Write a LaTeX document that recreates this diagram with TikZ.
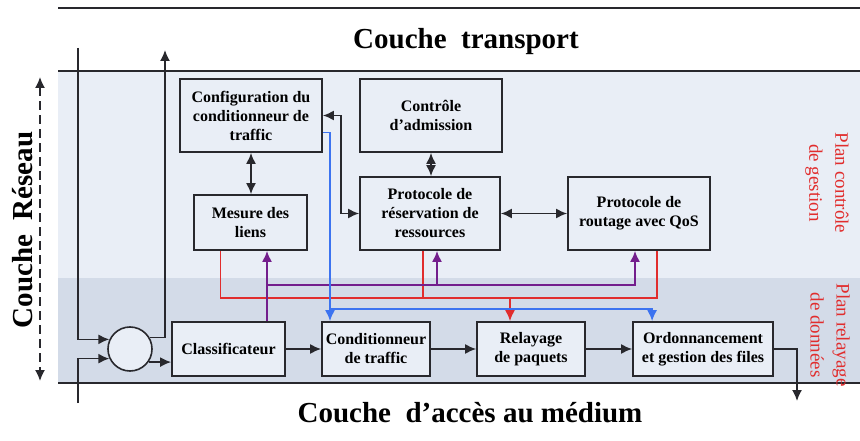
\documentclass[tikz,border=0pt]{standalone}
\usepackage{fontspec}
\setmainfont{Liberation Serif}
\usepackage{tikz}
\usetikzlibrary{arrows.meta}
\definecolor{planhaut}{RGB}{233,238,246}
\definecolor{planbas}{RGB}{211,219,232}
\definecolor{rouge}{RGB}{225,45,45}
\definecolor{bleu}{RGB}{60,115,240}
\definecolor{violet}{RGB}{115,30,140}
\definecolor{trait}{RGB}{40,40,45}

\begin{document}
\begin{tikzpicture}[x=1pt,y=-1pt,>={Latex[length=11pt,width=10pt]}]
\tikzstyle{bloc}=[draw=trait, line width=1.8pt, fill=planhaut, align=center, inner sep=1pt, font=\fontsize{16}{19}\selectfont\bfseries]
\tikzstyle{titre}=[font=\fontsize{29}{32}\selectfont\bfseries, inner sep=0pt]
\tikzstyle{plan}=[text=rouge, align=center, inner sep=0pt, font=\fontsize{19}{26}\selectfont]
\tikzstyle{lien}=[line width=1.6pt, draw=trait]

\useasboundingbox (0,0) rectangle (860,441);
\fill[white] (0,0) rectangle (860,441);
\fill[planhaut] (58,71) rectangle (860,278);
\fill[planbas] (58,278) rectangle (860,383);
\draw[lien] (58,8) -- (860,8);
\draw[lien] (58,71) -- (860,71);
\draw[lien] (58,383) -- (860,383);

\node[titre] (transport) at (466,42) {Couche\ \ transport};
\node[titre] (acces) at (470,413) {Couche\ \ d’accès au médium};
\node[titre, rotate=90] (reseau) at (23,230) {Couche\ \ Réseau};
\node[plan, rotate=-90] (gestion) at (827,183) {Plan contrôle\\de gestion};
\node[plan, rotate=-90] (donnees) at (830,335) {Plan relayage\\de données};

\node[bloc, minimum width=142, minimum height=73] (config) at (251,115.5) {Configuration du\\conditionneur de\\traffic};
\node[bloc, minimum width=142, minimum height=73] (admission) at (431,115.5) {Contrôle\\d’admission};
\node[bloc, minimum width=113, minimum height=55] (mesure) at (250.5,222.5) {Mesure des\\liens};
\node[bloc, minimum width=140, minimum height=73] (reservation) at (430,213.5) {Protocole de\\réservation de\\ressources};
\node[bloc, minimum width=142, minimum height=73] (routage) at (639,213.5) {Protocole de\\routage avec QoS};
\node[bloc, minimum width=113, minimum height=54] (classif) at (228.5,349) {Classificateur};
\node[bloc, minimum width=108, minimum height=54] (condit) at (376,349) {Conditionneur\\de traffic};
\node[bloc, minimum width=108, minimum height=54] (relayage) at (531,349) {Relayage\\de paquets};
\node[bloc, minimum width=140, minimum height=54] (ordo) at (703,349) {Ordonnancement\\et gestion des files};
\node[circle, draw=trait, line width=1.6pt, fill=planhaut, minimum size=44] (somme) at (130,349) {};

\coordinate (reseauHaut) at (40,77);
\coordinate (reseauBas) at (40,381);
\coordinate (entreeA) at (78,48);
\coordinate (entreeB) at (78,403);
\coordinate (sortieHaut) at (165,50);
\coordinate (sortieBas) at (797,401);
\coordinate (busBleu) at (330,309);
\coordinate (busRouge) at (510,298);
\coordinate (busViolet) at (267,285);

\draw[lien, <->, dash pattern=on 9pt off 5pt] (reseauHaut) -- (reseauBas);

\draw[lien,->] (entreeA) |- (somme.155);
\draw[lien,->] (entreeB) |- (somme.205);
\draw[lien,->] (somme.30) -| (sortieHaut);
\draw[lien,->] (somme.-35) -- (classif.west |- somme.-35);
\draw[lien,->] (classif) -- (condit);
\draw[lien,->] (condit) -- (relayage);
\draw[lien,->] (relayage) -- (ordo);
\draw[lien,->] (ordo.east) -| (sortieBas);

\draw[lien,<->] (config.south) -- (config.south |- mesure.north);
\draw[lien,<->] (admission.south) -- (admission.south |- reservation.north);
\draw[lien,<->] (reservation) -- (routage);
\draw[lien,<->] (config.east) -- ++(18,0) |- (reservation.west);

\draw[lien,draw=rouge] ([xshift=-30]mesure.south) |- (busRouge) -| ([xshift=18]routage.south);
\draw[lien,draw=rouge] ([xshift=-7]reservation.south) -- ([xshift=-7]reservation.south |- busRouge);
\draw[lien,draw=rouge,->] (busRouge) -- (busRouge |- relayage.north);

\draw[lien,draw=violet,->] (classif.north -| busViolet) -- (busViolet |- mesure.south);
\draw[lien,draw=violet,->] (busViolet) -| ([xshift=-4]routage.south);
\draw[lien,draw=violet,->] ([xshift=7]reservation.south |- busViolet) -- ([xshift=7]reservation.south);

\draw[lien,draw=bleu,->] ([yshift=-17]config.east) -| (busBleu) -- (busBleu |- condit.north);
\draw[lien,draw=bleu,->] (busBleu) -| ([xshift=20]ordo.north west);

\end{tikzpicture}
\end{document}
